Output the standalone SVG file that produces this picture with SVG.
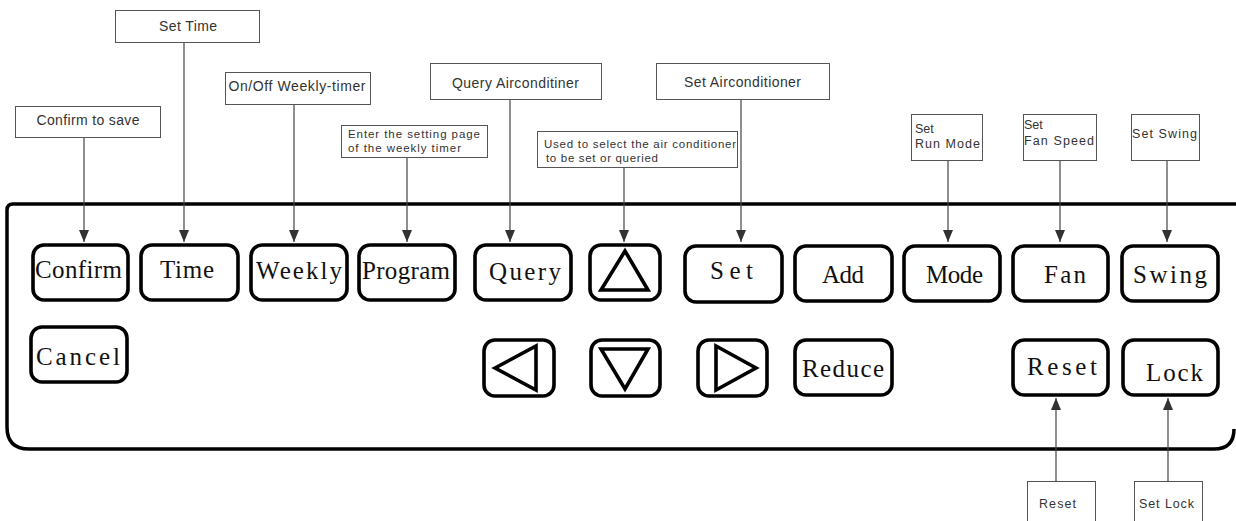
<svg xmlns="http://www.w3.org/2000/svg" width="1236" height="521" viewBox="0 0 1236 521">
<style>
.lbl{fill:#fff;stroke:#555;stroke-width:1}
.lt{font-family:"Liberation Sans",Arial,sans-serif;font-size:14px;fill:#333}
.ls{font-family:"Liberation Sans",Arial,sans-serif;font-size:12.5px;fill:#333}
.lx{font-family:"Liberation Sans",Arial,sans-serif;font-size:11.5px;fill:#333}
.btn{fill:#fff;stroke:#000;stroke-width:3.6;stroke-linejoin:round}
.bt{font-family:"Liberation Serif","Times New Roman",serif;font-size:25px;fill:#111}
.tri{fill:none;stroke:#000;stroke-width:3.6;stroke-linejoin:miter}
.con{stroke:#444;stroke-width:1.2;fill:none;marker-end:url(#ah)}
</style>
<defs>
<marker id="ah" viewBox="0 0 12 10" refX="12" refY="5" markerWidth="12" markerHeight="10" markerUnits="userSpaceOnUse" orient="auto">
<path d="M0,0 L12,5 L0,10 z" fill="#333"/>
</marker>
</defs>
<rect width="1236" height="521" fill="#fff"/>

<g id="panel">
<path d="M1240,204 H13 Q7,204 7,210 V427 Q7,449 29,449 H1214 Q1234,449 1234,429" fill="none" stroke="#000" stroke-width="3.5"/>
</g>

<g id="connectors">
<line class="con" x1="84" y1="137" x2="84" y2="242"/>
<line class="con" x1="184" y1="42" x2="184" y2="242"/>
<line class="con" x1="294" y1="104" x2="294" y2="242"/>
<line class="con" x1="407" y1="157" x2="407" y2="242"/>
<line class="con" x1="510" y1="99" x2="510" y2="242"/>
<line class="con" x1="624" y1="167" x2="624" y2="242"/>
<line class="con" x1="741" y1="99" x2="741" y2="242"/>
<line class="con" x1="948" y1="160" x2="948" y2="242"/>
<line class="con" x1="1060" y1="160" x2="1060" y2="242"/>
<line class="con" x1="1167" y1="160" x2="1167" y2="242"/>
<line class="con" x1="1056" y1="481" x2="1056" y2="398"/>
<line class="con" x1="1168" y1="481" x2="1168" y2="398"/>
</g>

<g id="label-confirm"><rect class="lbl" x="15.5" y="106.5" width="145" height="31"/><text class="lt" x="88" y="125" text-anchor="middle" textLength="103">Confirm to save</text></g>
<g id="label-time"><rect class="lbl" x="115.5" y="10.5" width="144" height="32"/><text class="lt" x="188" y="31" text-anchor="middle" textLength="58">Set Time</text></g>
<g id="label-weekly"><rect class="lbl" x="225.5" y="72.5" width="145" height="32"/><text class="lt" x="297" y="91" text-anchor="middle" textLength="137">On/Off Weekly-timer</text></g>
<g id="label-program"><rect class="lbl" x="341.5" y="125.5" width="146" height="32"/><text class="lx" x="348" y="138" textLength="132">Enter the setting page</text><text class="lx" x="348" y="152" textLength="113">of the weekly timer</text></g>
<g id="label-query"><rect class="lbl" x="430.5" y="63.5" width="171" height="36"/><text class="lt" x="452" y="88" textLength="127">Query Airconditiner</text></g>
<g id="label-select"><rect class="lbl" x="537.5" y="131.5" width="200" height="36"/><text class="lx" x="544" y="148" textLength="192">Used to select the air conditioner</text><text class="lx" x="546" y="162" textLength="112">to be set or queried</text></g>
<g id="label-set"><rect class="lbl" x="656.5" y="63.5" width="173" height="36"/><text class="lt" x="684" y="87" textLength="117">Set Airconditioner</text></g>
<g id="label-mode"><rect class="lbl" x="911.5" y="114.5" width="71" height="46"/><text class="ls" x="915" y="133">Set</text><text class="ls" x="915" y="148" textLength="65">Run Mode</text></g>
<g id="label-fan"><rect class="lbl" x="1023.5" y="114.5" width="73" height="46"/><text class="ls" x="1024" y="129">Set</text><text class="ls" x="1024" y="145" textLength="70">Fan Speed</text></g>
<g id="label-swing"><rect class="lbl" x="1131.5" y="114.5" width="68" height="46"/><text class="ls" x="1132" y="138" textLength="65">Set Swing</text></g>
<g id="label-reset"><rect class="lbl" x="1027.5" y="481.5" width="68" height="50"/><text class="ls" x="1039" y="508" textLength="37">Reset</text></g>
<g id="label-lock"><rect class="lbl" x="1134.5" y="481.5" width="68" height="50"/><text class="ls" x="1139" y="508" textLength="55">Set Lock</text></g>

<g id="btn-confirm"><rect class="btn" x="33" y="245" width="95" height="55" rx="11"/><text class="bt" x="35" y="278" textLength="87">Confirm</text></g>
<g id="btn-time"><rect class="btn" x="141" y="245" width="97" height="55" rx="11"/><text class="bt" x="160" y="278" textLength="54">Time</text></g>
<g id="btn-weekly"><rect class="btn" x="251" y="245" width="96" height="55" rx="11"/><text class="bt" x="256" y="279" textLength="86">Weekly</text></g>
<g id="btn-program"><rect class="btn" x="359" y="245" width="96" height="55" rx="11"/><text class="bt" x="362" y="279" textLength="88">Program</text></g>
<g id="btn-query"><rect class="btn" x="475" y="245" width="96" height="55" rx="11"/><text class="bt" x="489" y="280" textLength="72">Query</text></g>
<g id="btn-up"><rect class="btn" x="590" y="245" width="70" height="55" rx="11"/><polygon class="tri" points="601,290 648,290 625,251"/></g>
<g id="btn-set"><rect class="btn" x="685" y="246" width="97" height="56" rx="11"/><text class="bt" x="710" y="279" textLength="43">Set</text></g>
<g id="btn-add"><rect class="btn" x="795" y="246" width="97" height="55" rx="11"/><text class="bt" x="822" y="283" textLength="42">Add</text></g>
<g id="btn-mode"><rect class="btn" x="904" y="246" width="96" height="55" rx="11"/><text class="bt" x="926" y="283" textLength="57">Mode</text></g>
<g id="btn-fan"><rect class="btn" x="1013" y="246" width="95" height="55" rx="11"/><text class="bt" x="1044" y="283" textLength="42">Fan</text></g>
<g id="btn-swing"><rect class="btn" x="1122" y="246" width="96" height="55" rx="11"/><text class="bt" x="1133" y="283" textLength="74">Swing</text></g>

<g id="btn-cancel"><rect class="btn" x="31" y="327" width="96" height="55" rx="11"/><text class="bt" x="36" y="365" textLength="84">Cancel</text></g>
<g id="btn-left"><rect class="btn" x="484" y="340" width="70" height="56" rx="11"/><polygon class="tri" points="495,368 536,346 536,390"/></g>
<g id="btn-down"><rect class="btn" x="591" y="340" width="69" height="56" rx="11"/><polygon class="tri" points="601,349 648,349 625,389"/></g>
<g id="btn-right"><rect class="btn" x="698" y="340" width="69" height="56" rx="11"/><polygon class="tri" points="716,346 716,390 756,368"/></g>
<g id="btn-reduce"><rect class="btn" x="795" y="340" width="97" height="55" rx="11"/><text class="bt" x="802" y="377" textLength="82">Reduce</text></g>
<g id="btn-reset"><rect class="btn" x="1013" y="340" width="95" height="55" rx="11"/><text class="bt" x="1027" y="375" textLength="70">Reset</text></g>
<g id="btn-lock"><rect class="btn" x="1123" y="340" width="95" height="55" rx="11"/><text class="bt" x="1146" y="381" textLength="57">Lock</text></g>
</svg>
